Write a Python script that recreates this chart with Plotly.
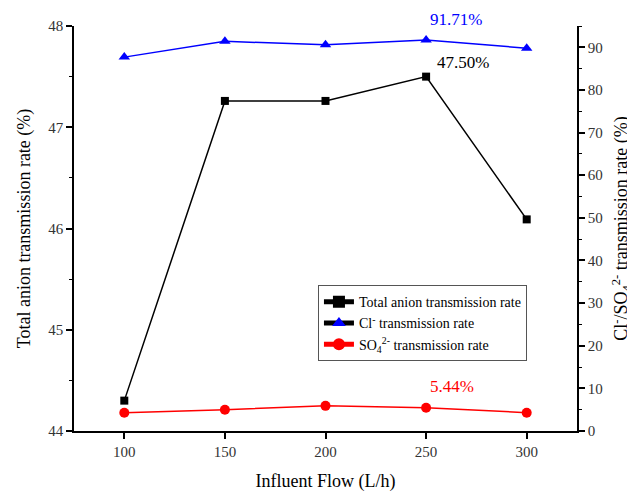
import plotly.graph_objects as go

flow = [100, 150, 200, 250, 300]
total_anion = [44.30, 47.26, 47.26, 47.50, 46.09]
cl_rate = [87.7, 91.4, 90.6, 91.71, 89.8]
so4_rate = [4.3, 5.0, 5.9, 5.44, 4.3]

FONT = "Liberation Serif, Times New Roman, serif"

fig = go.Figure()

fig.add_trace(go.Scatter(x=flow, y=total_anion, mode="lines+markers",
                         line=dict(color="black", width=1.5),
                         marker=dict(symbol="square", size=8, color="black"),
                         name="Total anion transmission rate", yaxis="y"))
fig.add_trace(go.Scatter(x=flow, y=cl_rate, mode="lines+markers",
                         line=dict(color="#0000ff", width=1.5),
                         marker=dict(symbol="triangle-up", size=10, color="#0000ff"),
                         showlegend=False, yaxis="y2"))
fig.add_trace(go.Scatter(x=[None], y=[None], mode="lines+markers",
                         line=dict(color="black", width=1.5),
                         marker=dict(symbol="triangle-up", size=10, color="#0000ff"),
                         name="Cl<sup>-</sup> transmission rate", yaxis="y2"))
fig.add_trace(go.Scatter(x=flow, y=so4_rate, mode="lines+markers",
                         line=dict(color="#ff0000", width=1.5),
                         marker=dict(symbol="circle", size=10, color="#ff0000"),
                         name="SO<sub>4</sub><sup>2-</sup> transmission rate", yaxis="y2"))

fig.add_annotation(x=flow[3], y=cl_rate[3], yref="y2", text=f"{cl_rate[3]:.2f}%",
                   showarrow=False, xshift=30, yshift=21,
                   font=dict(family=FONT, size=17, color="#0000ff"))
fig.add_annotation(x=flow[3], y=total_anion[3], yref="y", text=f"{total_anion[3]:.2f}%",
                   showarrow=False, xshift=37, yshift=14,
                   font=dict(family=FONT, size=17, color="black"))
fig.add_annotation(x=flow[3], y=so4_rate[3], yref="y2", text=f"{so4_rate[3]:.2f}%",
                   showarrow=False, xshift=26, yshift=21,
                   font=dict(family=FONT, size=17, color="#ff0000"))

axis_common = dict(showline=True, linecolor="black", linewidth=1.5, ticks="outside",
                   ticklen=6, tickwidth=1.5, tickcolor="black", showgrid=False,
                   zeroline=False, automargin=False,
                   tickfont=dict(family=FONT, size=15, color="#333"))

fig.update_layout(
    width=627, height=487,
    margin=dict(l=66, r=58, t=18, b=64),
    plot_bgcolor="white", paper_bgcolor="white",
    font=dict(family=FONT, color="black"),
    xaxis=dict(range=[75, 325], tickvals=flow,
               title=dict(text="Influent Flow (L/h)", font=dict(family=FONT, size=18), standoff=16),
               **axis_common),
    yaxis=dict(range=[44, 48], tickvals=[44, 45, 46, 47, 48],
               minor=dict(dtick=0.5, ticks="outside", ticklen=3, tickwidth=1.2, tickcolor="black"),
               title=dict(text="Total anion transmission rate (%)", font=dict(family=FONT, size=18), standoff=13),
               **axis_common),
    yaxis2=dict(range=[0, 95], overlaying="y", side="right",
                tickvals=list(range(0, 100, 10)),
                minor=dict(dtick=5, ticks="outside", ticklen=3, tickwidth=1.2, tickcolor="black"),
                title=dict(text="Cl<sup>-</sup>/SO<sub>4</sub><sup>2-</sup> transmission rate (%)",
                           font=dict(family=FONT, size=18), standoff=13),
                **axis_common),
    legend=dict(x=0.485, y=0.36, xanchor="left", yanchor="top",
                bgcolor="white", bordercolor="#555", borderwidth=1,
                font=dict(family=FONT, size=14, color="black"),
                tracegroupgap=0, itemsizing="constant"),
)

fig.write_html("out.html")
